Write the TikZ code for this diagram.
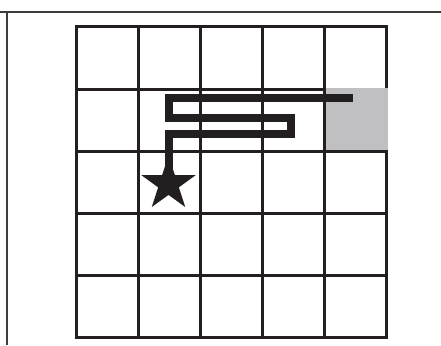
\documentclass[tikz,border=0pt]{standalone}
\definecolor{gwblack}{RGB}{35,31,32}
\definecolor{gwgray}{RGB}{192,192,194}
\definecolor{gwrule}{RGB}{60,60,60}
\usetikzlibrary{shapes.geometric}
\begin{document}
\begin{tikzpicture}[x=1pt,y=-1pt,
    gridline/.style={draw=gwblack,line width=3pt},
    route/.style={draw=gwblack,line width=8pt,line join=miter},
    goal/.style={star,star points=5,star point ratio=2.618,fill=gwblack,
      minimum size=57pt,inner sep=0pt}]
  \useasboundingbox (0,0) rectangle (441,345);
  % frame rules
  \draw[gwrule,line width=2pt] (0,12.3) -- (441,12.3);
  \draw[gwrule,line width=2pt] (7,12.3) -- (7,345);
  % 5x5 board
  \foreach \i in {1,...,4} {
    \draw[gridline] (76+62*\i,27) -- (76+62*\i,337);
    \draw[gridline] (76,27+62*\i) -- (386,27+62*\i);
  }
  \draw[gridline] (76,27) rectangle (386,337);
  \fill[gwgray] (325.5,87.5) rectangle (387.5,149.5);
  % start and path
  \node[goal] (start) at (168.5,184) {};
  \draw[route] (352.5,97.5) -- (168.5,97.5) -- (168.5,118) -- (291,118)
    -- (291,134) -- (168.5,134) -- (start.center);
\end{tikzpicture}
\end{document}
